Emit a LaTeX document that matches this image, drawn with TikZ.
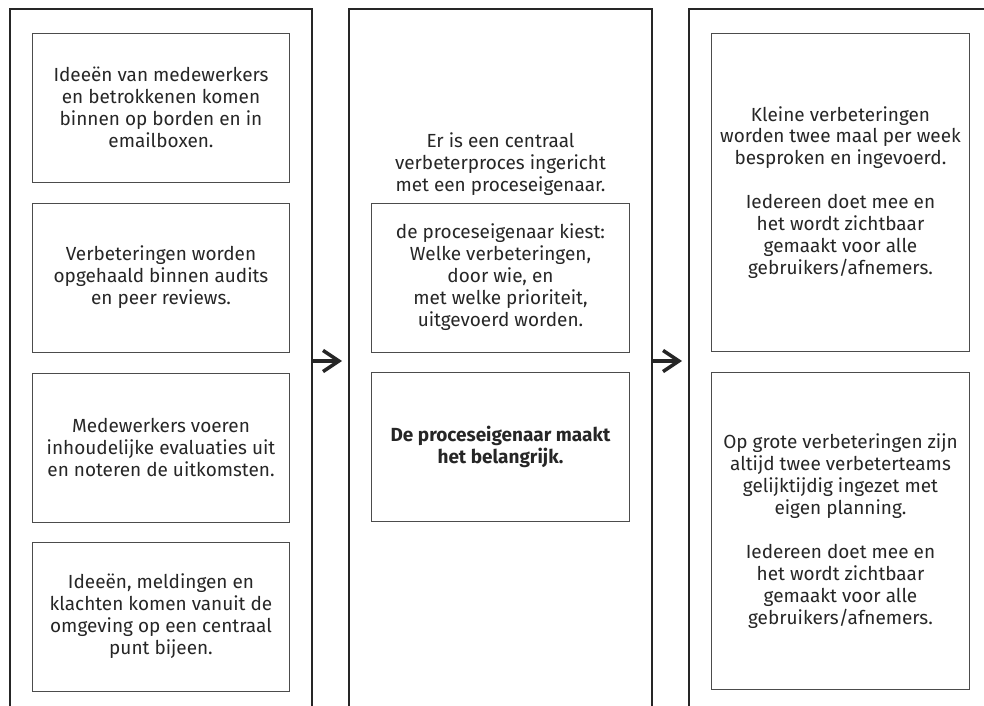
\documentclass[tikz,border=0pt]{standalone}
\usepackage{fontspec}
\setmainfont{Fira Sans}
\usetikzlibrary{arrows.meta}

\begin{document}
\begin{tikzpicture}[
  x=0.02cm, y=-0.02cm,
  column/.style={draw=black!85, line width=0.85pt},
  item/.style={draw=black!70, line width=0.55pt, minimum width=5.16cm, minimum height=2.98cm, align=center, font=\fontsize{10.8}{12.5}\selectfont, text=black!85},
  tall/.style={item, minimum height=6.38cm},
  note/.style={align=center, font=\fontsize{10.8}{12.5}\selectfont, text=black!85},
  flow/.style={-{Straight Barb[length=9pt,width=12pt]}, line width=2pt, black!85, shorten >=0.14cm},
]
\useasboundingbox (0,0) rectangle (984,706);

% Columns (open at the bottom)
\draw[column] (10,706) -- (10,9) -- (312,9) -- (312,706);
\draw[column] (349,706) -- (349,9) -- (652,9) -- (652,706);
\draw[column] (689,706) -- (689,9) -- (984,9);

\coordinate (col1e) at (312,361);
\coordinate (col2w) at (349,361);
\coordinate (col2e) at (652,361);
\coordinate (col3w) at (689,361);

% Column 1: input
\node[item] (ideas) at (161,107.5) {Ideeën van medewerkers\\en betrokkenen komen\\binnen op borden en in\\emailboxen.};
\node[item] (audits) at (161,277.5) {Verbeteringen worden\\opgehaald binnen audits\\en peer reviews.};
\node[item] (evals) at (161,447.5) {Medewerkers voeren\\inhoudelijke evaluaties uit\\en noteren de uitkomsten.};
\node[item] (complaints) at (161,616.5) {Ideeën, meldingen en\\klachten komen vanuit de\\omgeving op een centraal\\punt bijeen.};

% Column 2: process owner
\node[note] (central) at (500.5,164) {Er is een centraal\\verbeterproces ingericht\\met een proceseigenaar.};
\node[item] (choice) at (500.5,277.5) {de proceseigenaar kiest:\\Welke verbeteringen,\\door wie, en\\met welke prioriteit,\\uitgevoerd worden.};
\node[item, font=\fontsize{10.8}{12.5}\selectfont\bfseries] (owner) at (500.5,446.5) {De proceseigenaar maakt\\het belangrijk.};

% Column 3: execution
\node[tall] (small) at (840.5,192.5) {Kleine verbeteringen\\worden twee maal per week\\besproken en ingevoerd.\\[12.5pt]Iedereen doet mee en\\het wordt zichtbaar\\gemaakt voor alle\\gebruikers/afnemers.};
\node[tall, minimum height=6.36cm] (large) at (840.5,531) {Op grote verbeteringen zijn\\altijd twee verbeterteams\\gelijktijdig ingezet met\\eigen planning.\\[12.5pt]Iedereen doet mee en\\het wordt zichtbaar\\gemaakt voor alle\\gebruikers/afnemers.};

% Arrows between columns
\draw[flow] (col1e) -- (col2w);
\draw[flow] (col2e) -- (col3w);

\end{tikzpicture}
\end{document}
